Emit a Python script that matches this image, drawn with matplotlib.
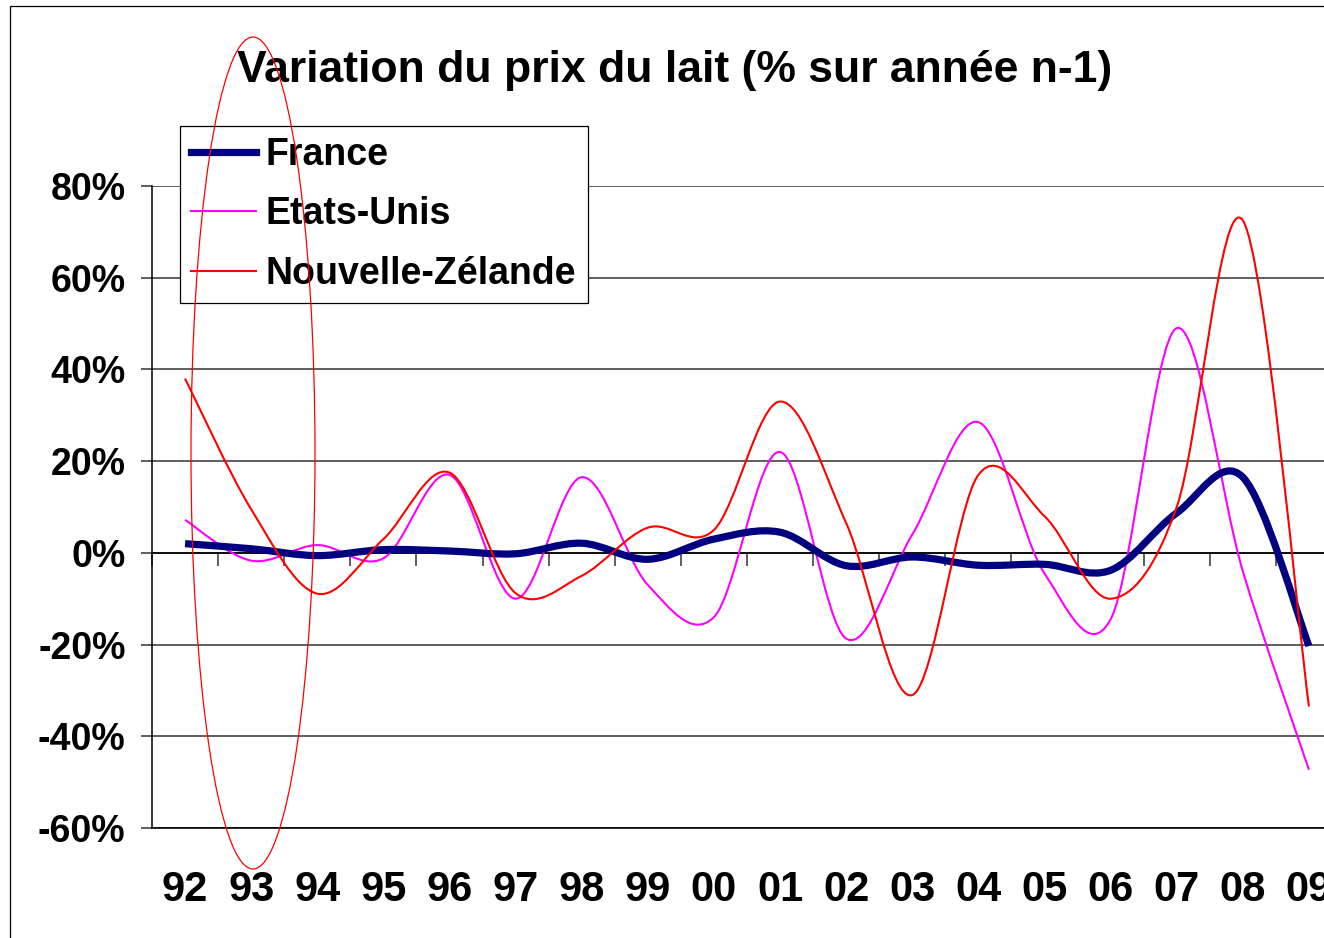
import matplotlib
matplotlib.use("Agg")
import matplotlib.pyplot as plt
from matplotlib.path import Path
from matplotlib.patches import PathPatch, Ellipse, Rectangle
from matplotlib.lines import Line2D

# ---------------- data ----------------
years = ["92", "93", "94", "95", "96", "97", "98", "99", "00",
         "01", "02", "03", "04", "05", "06", "07", "08", "09"]
france = [2.0, 0.9, -0.6, 0.7, 0.4, -0.2, 2.1, -1.4, 3.0,
          4.5, -2.8, -0.9, -2.7, -2.5, -3.8, 8.7, 16.5, -20.3]
etats_unis = [7.2, -1.7, 1.7, -1.2, 17.0, -10.0, 16.5, -7.0, -14.0,
              22.0, -18.7, 4.0, 28.5, -4.5, -14.5, 49.0, -4.0, -47.3]
nouvelle_zelande = [38.0, 9.5, -8.9, 3.0, 17.5, -8.8, -5.0, 5.5, 5.0,
                    33.0, 6.5, -31.0, 17.0, 8.0, -10.0, 10.0, 72.5, -33.5]
series_names = ["France", "Etats-Unis", "Nouvelle-Zélande"]
y_ticks = [-60, -40, -20, 0, 20, 40, 60, 80]
y_labels = ["-60%", "-40%", "-20%", "0%", "20%", "40%", "60%", "80%"]
title = "Variation du prix du lait (% sur année n-1)"

FONT = "Liberation Sans"
W, H = 1324, 938

fig = plt.figure(figsize=(W / 100, H / 100), dpi=100)
fig.patch.set_facecolor("white")

# chart-area border (only top and left edges visible)
fig.add_artist(Rectangle((10 / W, -0.05), 1.2, 1 - 6 / H + 0.05,
                         transform=fig.transFigure, fill=False,
                         edgecolor="black", linewidth=0.9, zorder=0))

ax = fig.add_axes([152 / W, 110 / H, 1190 / W, 642 / H])
ax.set_facecolor("none")
n = len(years)
xs = list(range(n))
ax.set_xlim(-0.5, n - 0.5)
ax.set_ylim(-60, 80)


def smooth_path(x, y):
    """Excel-like smoothed line as cubic Bezier segments."""
    verts = [(x[0], y[0])]
    codes = [Path.MOVETO]
    m = len(x)
    for i in range(m - 1):
        x0, y0 = x[max(i - 1, 0)], y[max(i - 1, 0)]
        x1, y1 = x[i], y[i]
        x2, y2 = x[i + 1], y[i + 1]
        x3, y3 = x[min(i + 2, m - 1)], y[min(i + 2, m - 1)]
        c1 = (x1 + (x2 - x0) / 6.0, y1 + (y2 - y0) / 6.0)
        c2 = (x2 - (x3 - x1) / 6.0, y2 - (y3 - y1) / 6.0)
        verts += [c1, c2, (x2, y2)]
        codes += [Path.CURVE4] * 3
    return Path(verts, codes)


styles = [
    (france, "#000080", 5.2, 4),
    (etats_unis, "#FF00FF", 1.5, 3),
    (nouvelle_zelande, "#FF0000", 1.5, 5),
]
for vals, col, lw, z in styles:
    patch = PathPatch(smooth_path(xs, vals), fill=False, edgecolor=col,
                      linewidth=lw, zorder=z, capstyle="butt",
                      joinstyle="round")
    ax.add_patch(patch)

# grid and axes
ax.set_yticks(y_ticks)
ax.set_yticklabels(y_labels, fontfamily=FONT, fontweight="bold", fontsize=27)
ax.yaxis.grid(True, color="#333333", linewidth=1.1)
ax.set_axisbelow(True)
ax.tick_params(axis="y", direction="out", length=8, width=1.1,
               color="#333333", pad=11)
ax.axhline(0, color="black", linewidth=1.2, zorder=2)

ax.set_xticks(xs)
ax.set_xticklabels(years, fontfamily=FONT, fontweight="bold", fontsize=30)
ax.tick_params(axis="x", length=0, pad=30)

for s in ["top", "right"]:
    ax.spines[s].set_visible(False)
ax.spines["left"].set_color("black")
ax.spines["left"].set_linewidth(1.1)
ax.spines["bottom"].set_color("black")
ax.spines["bottom"].set_linewidth(1.2)

# category boundary ticks on the zero line
sec = ax.secondary_xaxis(60 / 140)
sec.set_xticks([i - 0.5 for i in range(n + 1)])
sec.set_xticklabels([])
sec.tick_params(axis="x", direction="out", length=9, width=1.1,
                color="#333333")
sec.spines["bottom"].set_visible(False)
sec.spines["top"].set_visible(False)

# legend
handles = [Line2D([], [], color=c, linewidth=lw) for _, c, lw, _ in styles]
leg = ax.legend(handles, series_names, loc="upper left",
                bbox_to_anchor=(180 / W, 1 - 126 / H),
                bbox_transform=fig.transFigure, borderaxespad=0,
                prop={"family": FONT, "weight": "bold", "size": 27},
                handlelength=1.72, handletextpad=0.27, labelspacing=0.62,
                borderpad=0.3, fancybox=False, framealpha=1,
                edgecolor="black")
leg.get_frame().set_linewidth(0.9)
leg.set_zorder(10)

# title
fig.text(675 / W, 1 - 82 / H, title, ha="center", va="baseline",
         fontfamily=FONT, fontweight="bold", fontsize=32)

# red annotation ellipse
fig.add_artist(Ellipse((253 / W, 1 - 453 / H), 124 / W, 832 / H,
                       transform=fig.transFigure, fill=False,
                       edgecolor="#FF0000", linewidth=0.9, zorder=20))

fig.savefig("out.png", dpi=100)
